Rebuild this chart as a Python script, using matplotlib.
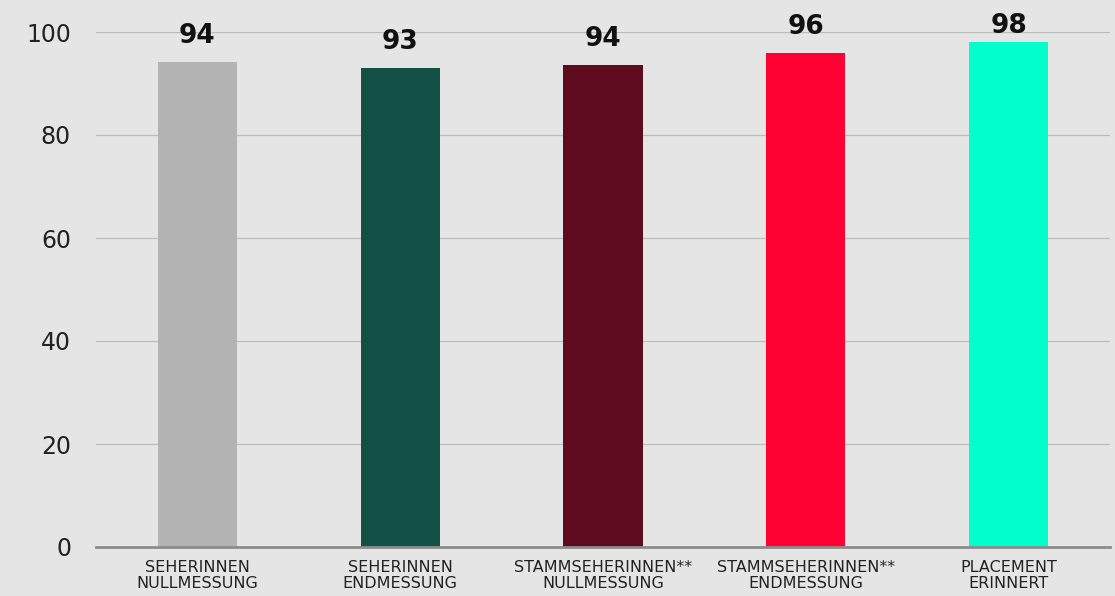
import matplotlib
matplotlib.use("Agg")
import matplotlib.pyplot as plt

categories = ["SEHERINNEN\nNULLMESSUNG", "SEHERINNEN\nENDMESSUNG",
              "STAMMSEHERINNEN**\nNULLMESSUNG", "STAMMSEHERINNEN**\nENDMESSUNG",
              "PLACEMENT\nERINNERT"]
values = [94.1, 93.0, 93.6, 95.9, 98.0]
labels = ["94", "93", "94", "96", "98"]
colors = ["#b3b3b3", "#124f45", "#5e0b1f", "#ff0033", "#00ffcc"]
yticks = [0, 20, 40, 60, 80, 100]

bg = "#e5e5e5"
fig = plt.figure(figsize=(11.15, 5.96), dpi=100, facecolor=bg)
ax = fig.add_axes([96/1115, 49/596, (1110-96)/1115, (547-32)/596])
ax.set_facecolor(bg)

x = list(range(len(categories)))
bars = ax.bar(x, values, width=0.39, color=colors, zorder=3)
ax.set_xlim(-0.5, len(categories) - 0.5)
ax.set_ylim(0, 100)
ax.set_yticks(yticks)
ax.set_yticklabels([str(t) for t in yticks], fontsize=17, color="#222222")
ax.set_xticks(x)
ax.set_xticklabels(categories, fontsize=11.5, color="#222222", linespacing=1.1)
ax.tick_params(axis="y", length=0, pad=18)
ax.tick_params(axis="x", length=0, pad=9)
ax.grid(axis="y", color="#bcbcbc", linewidth=0.9, zorder=0)
ax.grid(axis="x", visible=False)
for s in ["top", "right", "left"]:
    ax.spines[s].set_visible(False)
ax.spines["bottom"].set_color("#8c8c8c")
ax.spines["bottom"].set_linewidth(2)
ax.spines["bottom"].set_zorder(4)

offsets = [19, 19, 19, 19, 12]
for b, lab, off in zip(bars, labels, offsets):
    ax.annotate(lab, (b.get_x() + b.get_width() / 2, b.get_height()),
                xytext=(0, off), textcoords="offset points", ha="center", va="center",
                fontsize=19, fontweight="bold", color="#111111", annotation_clip=False, zorder=5)

fig.savefig("out.png", dpi=100, facecolor=bg)
